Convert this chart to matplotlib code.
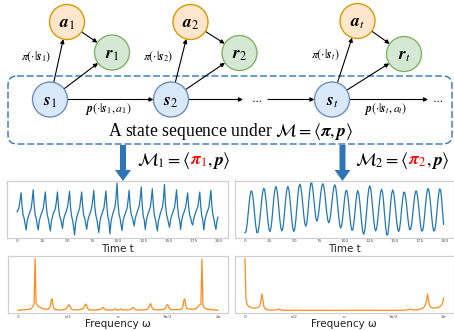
import matplotlib.pyplot as plt
import matplotlib.patches as mpatches
import numpy as np

plt.rcParams['mathtext.fontset'] = 'stix'

# time series under pi_1 (sawtooth-like) and pi_2 (sine-like), t = 0..199
series_pi1 = [
    -0.13, -0.05, 0.10, 0.45,
    0.83, 0.15, -0.30, -0.45, -0.75, -1.05, -0.60, -0.40, -0.25, -0.10, 0.05, 0.45,
    0.98, 0.20, -0.30, -0.45, -0.80, -1.05, -0.60, -0.40, -0.25, -0.10, 0.05, 0.45,
    0.87, 0.15, -0.30, -0.50, -0.80, -1.10, -0.60, -0.40, -0.20, -0.10, 0.05, 0.40,
    0.87, 0.15, -0.30, -0.45, -0.70, -0.97, -0.55, -0.35, -0.20, -0.05, 0.10, 0.50,
    0.90, 0.10, -0.35, -0.55, -0.90, -1.30, -0.70, -0.45, -0.25, -0.10, 0.05, 0.45,
    0.87, 0.15, -0.30, -0.45, -0.75, -1.02, -0.60, -0.40, -0.25, -0.10, 0.10, 0.50,
    0.95, 0.15, -0.30, -0.50, -0.85, -1.18, -0.65, -0.40, -0.25, -0.10, 0.05, 0.45,
    0.92, 0.10, -0.40, -0.60, -1.25, -0.65, -0.40, -0.20, -0.05, 0.10, 0.55,
    1.32, 0.30, -0.25, -0.45, -0.80, -1.08, -0.60, -0.40, -0.25, -0.10, 0.05, 0.45,
    0.95, 0.15, -0.25, -0.40, -0.60, -0.85, -0.50, -0.30, -0.15, 0.00, 0.15, 0.55,
    1.12, 0.20, -0.35, -0.55, -1.02, -0.60, -0.35, -0.20, -0.05, 0.10, 0.50,
    1.03, 0.20, -0.30, -0.50, -0.80, -1.10, -0.60, -0.40, -0.20, -0.05, 0.10, 0.50,
    1.25, 0.25, -0.25, -0.45, -0.70, -0.92, -0.55, -0.35, -0.20, -0.05, 0.10, 0.50,
    0.98, 0.15, -0.35, -0.55, -1.02, -0.60, -0.35, -0.20, -0.05, 0.10, 0.45,
    0.82, 0.10, -0.30, -0.45, -0.70, -0.80, -0.50, -0.30, -0.15, 0.00, 0.10, 0.50,
    0.87, 0.10, -0.35, -0.55, -1.05, -0.60, -0.35, -0.20, -0.05, 0.10, 0.50,
    0.95, 0.15, -0.30, -0.50, -0.80, -1.02, -0.60, -0.40,
]

series_pi2 = [
    -1.10, -1.06, -0.77, -0.31, 0.21, 0.64, 0.89,
    0.89, 0.62, 0.16, -0.37, -0.83, -1.10,
    -1.10, -0.86, -0.43, 0.08, 0.57, 0.91, 1.03,
    0.89, 0.51, -0.01, -0.53, -0.91, -1.05,
    -0.90, -0.51, 0.04, 0.58, 0.97, 1.12,
    0.98, 0.59, 0.05, -0.49, -0.88, -1.02,
    -0.88, -0.49, 0.05, 0.59, 0.98, 1.12,
    0.98, 0.58, 0.04, -0.51, -0.90, -1.05,
    -0.90, -0.48, 0.09, 0.66, 1.08, 1.23,
    1.09, 0.72, 0.22, -0.29, -0.66, -0.80,
    -0.63, -0.18, 0.41, 0.93, 1.28,
    1.28, 1.00, 0.52, -0.01, -0.40, -0.55,
    -0.43, -0.10, 0.35, 0.80, 1.13, 1.25,
    1.13, 0.78, 0.31, -0.16, -0.50, -0.63,
    -0.51, -0.17, 0.29, 0.74, 1.08, 1.20,
    1.06, 0.68, 0.16, -0.36, -0.74, -0.88,
    -0.74, -0.36, 0.14, 0.60, 0.90,
    0.93, 0.69, 0.25, -0.27, -0.72, -0.98,
    -0.98, -0.69, -0.19, 0.36, 0.76, 0.92,
    0.78, 0.40, -0.13, -0.66, -1.04, -1.18,
    -1.02, -0.60, -0.02, 0.57, 0.99, 1.15,
    1.01, 0.61, 0.07, -0.48, -0.87, -1.02,
    -0.89, -0.52, -0.02, 0.48, 0.85, 0.98,
    0.80, 0.33, -0.29, -0.84, -1.20,
    -1.21, -0.88, -0.30, 0.31, 0.77, 0.95,
    0.82, 0.45, -0.05, -0.55, -0.92, -1.05,
    -0.90, -0.49, 0.05, 0.51, 0.83,
    0.84, 0.60, 0.19, -0.30, -0.71, -0.95,
    -0.95, -0.70, -0.28, 0.22, 0.64, 0.89,
    0.89, 0.63, 0.19, -0.32, -0.76, -1.02,
    -1.01, -0.75, -0.28, 0.26, 0.73, 1.00,
    1.00, 0.73, 0.26, -0.28, -0.75, -1.01,
    -1.01, -0.75, -0.28, 0.26, 0.73, 1.00,
    0.95, 0.55, -0.10, -0.70,
]

# spectrum magnitudes (normalised), 200 bins over [0, 2pi]
spec_pi1 = [
    0.01, 0.015, 0.02, 0.015, 0.02, 0.025, 0.02, 0.02, 0.03, 0.025,
    0.03, 0.03, 0.035, 0.04, 0.06, 0.10, 0.14, 1.00, 0.15, 0.12,
    0.09, 0.08, 0.07, 0.06, 0.05, 0.04, 0.035, 0.03, 0.04, 0.03,
    0.035, 0.05, 0.09, 0.20, 0.23, 0.08, 0.04, 0.03, 0.02, 0.025,
    0.02, 0.02, 0.015, 0.02, 0.02, 0.025, 0.03, 0.03, 0.045, 0.07,
    0.11, 0.12, 0.07, 0.04, 0.025, 0.02, 0.02, 0.025, 0.02, 0.02,
    0.025, 0.025, 0.03, 0.03, 0.035, 0.05, 0.08, 0.13, 0.12, 0.06,
    0.03, 0.02, 0.02, 0.015, 0.02, 0.02, 0.015, 0.02, 0.02, 0.025,
    0.02, 0.025, 0.03, 0.04, 0.06, 0.065, 0.04, 0.025, 0.02, 0.015,
    0.02, 0.015, 0.02, 0.015, 0.02, 0.02, 0.03, 0.04, 0.02, 0.015,
    0.02, 0.02, 0.04, 0.03, 0.02, 0.015, 0.02, 0.02, 0.015, 0.02,
    0.02, 0.025, 0.03, 0.04, 0.06, 0.065, 0.04, 0.025, 0.02, 0.02,
    0.015, 0.02, 0.02, 0.015, 0.02, 0.02, 0.025, 0.02, 0.03, 0.04,
    0.07, 0.12, 0.14, 0.08, 0.04, 0.03, 0.025, 0.02, 0.025, 0.02,
    0.02, 0.025, 0.02, 0.025, 0.03, 0.03, 0.04, 0.07, 0.11, 0.12,
    0.07, 0.04, 0.03, 0.025, 0.02, 0.02, 0.025, 0.02, 0.025, 0.02,
    0.025, 0.03, 0.03, 0.04, 0.08, 0.20, 0.23, 0.09, 0.05, 0.04,
    0.035, 0.04, 0.03, 0.035, 0.03, 0.04, 0.035, 0.04, 0.06, 0.08,
    0.10, 0.12, 0.13, 0.99, 0.12, 0.07, 0.05, 0.04, 0.035, 0.03,
    0.03, 0.025, 0.03, 0.02, 0.025, 0.02, 0.02, 0.015, 0.015, 0.01,
]

spec_pi2 = [
    1.00, 0.24, 0.13, 0.10, 0.08, 0.07, 0.06, 0.055, 0.05, 0.05,
    0.05, 0.05, 0.055, 0.06, 0.07, 0.10, 0.18, 0.32, 0.20, 0.08,
    0.04, 0.03, 0.02, 0.015, 0.012, 0.01, 0.01, 0.01, 0.008, 0.01,
    0.01, 0.012, 0.015, 0.025, 0.03, 0.02, 0.012, 0.008, 0.007, 0.006,
    0.006, 0.005, 0.006, 0.005, 0.005, 0.006, 0.005, 0.006, 0.007, 0.008,
    0.01, 0.012, 0.01, 0.008, 0.006, 0.005, 0.005, 0.004, 0.005, 0.004,
    0.004, 0.005, 0.004, 0.004, 0.005, 0.004, 0.004, 0.004, 0.005, 0.004,
    0.004, 0.004, 0.005, 0.004, 0.004, 0.004, 0.005, 0.004, 0.004, 0.004,
    0.004, 0.004, 0.005, 0.004, 0.004, 0.004, 0.004, 0.005, 0.004, 0.004,
    0.004, 0.004, 0.005, 0.004, 0.004, 0.004, 0.005, 0.004, 0.004, 0.004,
    0.004, 0.004, 0.004, 0.005, 0.004, 0.004, 0.004, 0.005, 0.004, 0.004,
    0.004, 0.005, 0.004, 0.004, 0.004, 0.004, 0.005, 0.004, 0.004, 0.004,
    0.005, 0.004, 0.004, 0.005, 0.004, 0.005, 0.005, 0.006, 0.007, 0.008,
    0.009, 0.01, 0.008, 0.006, 0.005, 0.005, 0.006, 0.005, 0.006, 0.006,
    0.005, 0.006, 0.005, 0.006, 0.006, 0.005, 0.006, 0.006, 0.007, 0.006,
    0.006, 0.007, 0.006, 0.007, 0.007, 0.008, 0.007, 0.008, 0.008, 0.009,
    0.01, 0.01, 0.012, 0.015, 0.02, 0.025, 0.03, 0.025, 0.015, 0.012,
    0.012, 0.013, 0.015, 0.017, 0.02, 0.025, 0.03, 0.035, 0.045, 0.06,
    0.08, 0.12, 0.20, 0.32, 0.18, 0.10, 0.07, 0.06, 0.055, 0.05,
    0.05, 0.05, 0.055, 0.06, 0.065, 0.075, 0.09, 0.11, 0.15, 0.24,
]

time_ticks = [0, 25, 50, 75, 100, 125, 150, 175, 200]
freq_ticks = [0, np.pi / 2, np.pi, 3 * np.pi / 2, 2 * np.pi]
freq_labels = ['0', 'π/2', 'π', '3π/2', '2π']

t1 = np.arange(len(series_pi1))
t2 = np.arange(len(series_pi2))
w1 = np.linspace(0, 2 * np.pi, len(spec_pi1))
w2 = np.linspace(0, 2 * np.pi, len(spec_pi2))

W, H = 454, 331
fig = plt.figure(figsize=(W / 100, H / 100), dpi=100)


def panel(left, top, right, bottom):
    ax = fig.add_axes([left / W, 1 - bottom / H, (right - left) / W, (bottom - top) / H])
    for sp in ax.spines.values():
        sp.set_color('#d0d0d0')
        sp.set_linewidth(0.9)
    ax.set_yticks([])
    ax.tick_params(axis='x', length=0, pad=1.2, labelsize=3.2, labelcolor='#555555')
    return ax


ax_t1 = panel(7, 180.5, 228, 237.5)
ax_t1.plot(t1, series_pi1, color='#1f77b4', lw=0.9)
ax_t1.set_xticks(time_ticks)
ax_t1.set_xlabel('Time t', fontsize=7.5, labelpad=0.8, color='#222222')

ax_t2 = panel(235, 180.5, 453.5, 237.5)
ax_t2.plot(t2, series_pi2, color='#1f77b4', lw=0.9)
ax_t2.set_xticks(time_ticks)
ax_t2.set_xlabel('Time t', fontsize=7.5, labelpad=0.8, color='#222222')

ax_f1 = panel(8, 256, 228, 313)
ax_f1.plot(w1, spec_pi1, color='#ff8c1a', lw=0.9)
ax_f1.set_xticks(freq_ticks, freq_labels)
ax_f1.set_xlabel('Frequency ω', fontsize=7.5, labelpad=0.3, color='#222222')

ax_f2 = panel(235, 256, 453.5, 313)
ax_f2.plot(w2, spec_pi2, color='#ff8c1a', lw=0.9)
ax_f2.set_xticks(freq_ticks, freq_labels)
ax_f2.set_xlabel('Frequency ω', fontsize=7.5, labelpad=0.3, color='#222222')

# overlay for the diagram, in pixel units
ov = fig.add_axes([0, 0, 1, 1])
ov.set_xlim(0, W)
ov.set_ylim(H, 0)
ov.axis('off')
ov.patch.set_alpha(0)

R = 17.5
node_style = {
    's': ('#dae8fc', '#6c8ebf'),
    'a': ('#ffe6cc', '#d79b00'),
    'r': ('#d5e8d4', '#82b366'),
}
nodes = {
    's1': (50, 99.5), 'a1': (67, 22), 'r1': (112, 52.5),
    's2': (171, 99.5), 'a2': (190.5, 22), 'r2': (239.5, 53),
    'st': (332, 99.5), 'at': (357.5, 21), 'rt': (404, 54),
}
for name, (x, y) in nodes.items():
    fc, ec = node_style[name[0]]
    ov.add_patch(mpatches.Circle((x, y), R, fc=fc, ec=ec, lw=1.0, zorder=3))
    sub = name[1]
    ov.text(x, y + 1, r'$\boldsymbol{%s}_{%s}$' % (name[0], sub), fontsize=12.5,
            ha='center', va='center', zorder=4)


def link(a, b):
    (x0, y0), (x1, y1) = nodes[a], nodes[b]
    d = np.hypot(x1 - x0, y1 - y0)
    ux, uy = (x1 - x0) / d, (y1 - y0) / d
    ov.annotate('', xy=(x1 - R * ux, y1 - R * uy), xytext=(x0 + R * ux, y0 + R * uy),
                arrowprops=dict(arrowstyle='-|>', color='black', lw=0.8,
                                mutation_scale=6, shrinkA=0, shrinkB=0), zorder=2)


def hline(x0, x1, y=99.5):
    ov.annotate('', xy=(x1, y), xytext=(x0, y),
                arrowprops=dict(arrowstyle='-|>', color='black', lw=0.8,
                                mutation_scale=6, shrinkA=0, shrinkB=0), zorder=2)


for k in ['1', '2', 't']:
    link('s' + k, 'a' + k)
    link('s' + k, 'r' + k)
    link('a' + k, 'r' + k)

hline(67.5, 153.5)
hline(188.5, 243)
hline(268, 314.5)
hline(349.5, 428)
ov.text(257, 99, r'$\cdots$', fontsize=8, ha='center', va='center')
ov.text(438, 99, r'$\cdots$', fontsize=8, ha='center', va='center')

lab = dict(fontsize=8.5, va='center')
ov.text(51, 57, r'$\pi(\cdot|\boldsymbol{s}_1)$', ha='right', **lab)
ov.text(173, 57, r'$\pi(\cdot|\boldsymbol{s}_2)$', ha='right', **lab)
ov.text(340, 55, r'$\pi(\cdot|\boldsymbol{s}_t)$', ha='right', **lab)
ov.text(108, 109, r'$\boldsymbol{p}(\cdot|\boldsymbol{s}_1, a_1)$', ha='center', **lab)
ov.text(386, 109, r'$\boldsymbol{p}(\cdot|\boldsymbol{s}_t, a_t)$', ha='center', **lab)

ov.add_patch(mpatches.FancyBboxPatch((8, 76), 444, 68,
                                     boxstyle='round,pad=0,rounding_size=9',
                                     fill=False, ec='#2e75b6', lw=1.0,
                                     ls=(0, (5, 2)), zorder=1))
ov.text(231, 131, r'A state sequence under $\mathcal{M} = \langle\boldsymbol{\pi}, \boldsymbol{p}\rangle$',
        fontsize=12.7, family='Liberation Serif', ha='center', va='center')

for x in [123, 342.5]:
    ov.add_patch(mpatches.FancyArrow(x, 145, 0, 36, width=6, head_width=16,
                                     head_length=11, length_includes_head=True,
                                     color='#2e75b6', lw=0, zorder=5))

renderer = fig.canvas.get_renderer()


def color_label(x, y, parts):
    for s, c in parts:
        txt = ov.text(x, y, s, color=c, fontsize=12.8, ha='left', va='baseline')
        x = txt.get_window_extent(renderer=renderer).x1


color_label(137, 165, [(r'$\mathcal{M}_1 = \langle$', 'black'),
                       (r'$\boldsymbol{\pi}_1$', 'red'),
                       (r'$, \boldsymbol{p}\rangle$', 'black')])
color_label(355, 165, [(r'$\mathcal{M}_2 = \langle$', 'black'),
                       (r'$\boldsymbol{\pi}_2$', 'red'),
                       (r'$, \boldsymbol{p}\rangle$', 'black')])

fig.savefig('out.png', dpi=100)
